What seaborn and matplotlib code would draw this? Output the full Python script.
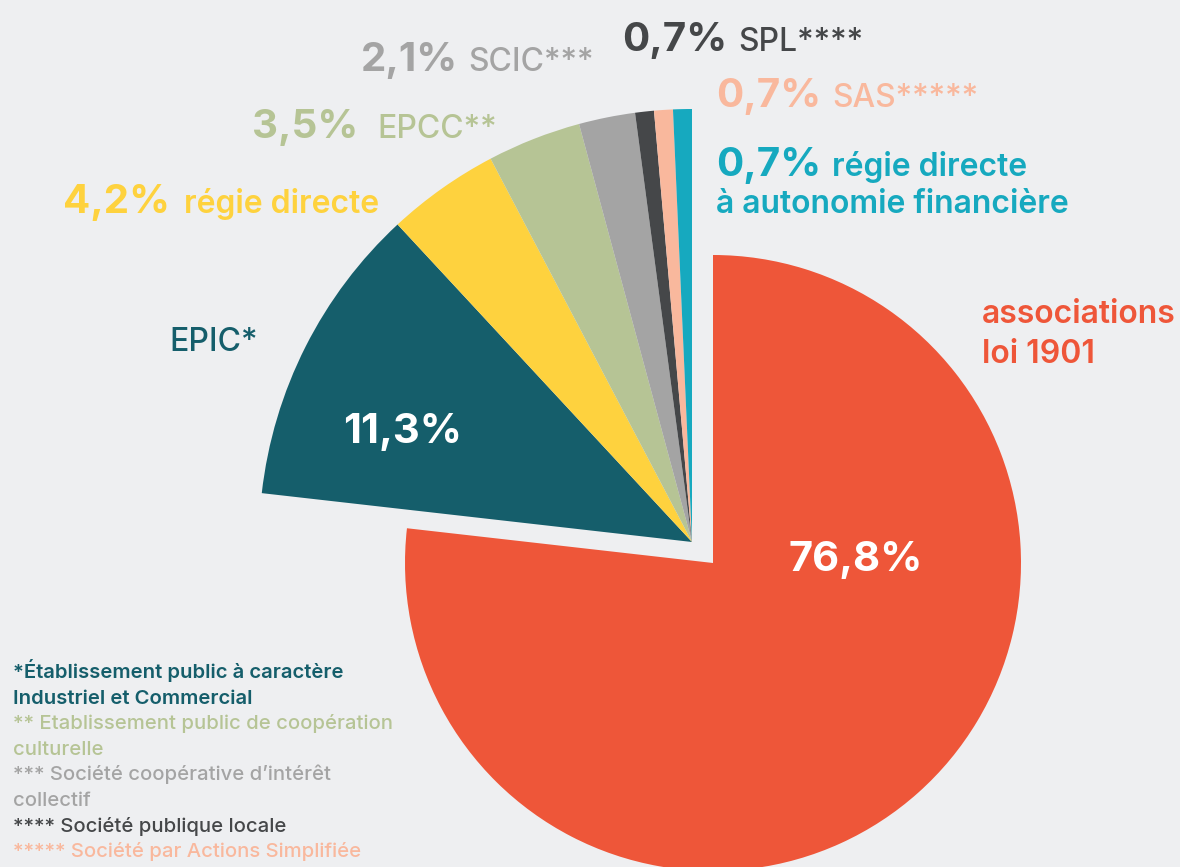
import seaborn as sns
import matplotlib.pyplot as plt

# part des modes de gestion
categories = ['associations loi 1901', 'EPIC*', 'régie directe', 'EPCC**', 'SCIC***',
              'SPL****', 'SAS*****', 'régie directe à autonomie financière']
valeurs = [76.8, 11.3, 4.2, 3.5, 2.1, 0.7, 0.7, 0.7]
couleurs = ['#EE5639', '#155E6B', '#FED23E', '#B6C495', '#A4A4A4',
            '#454749', '#F9B89D', '#16A9BF']

notes = ['*Établissement public à caractère', 'Industriel et Commercial',
         '** Etablissement public de coopération', 'culturelle',
         '*** Société coopérative d\u2019intérêt', 'collectif',
         '**** Société publique locale', '***** Société par Actions Simplifiée']
notes_couleurs = ['#155E6B', '#155E6B', '#B6C495', '#B6C495',
                  '#A4A4A4', '#A4A4A4', '#454749', '#F9B89D']

fond = '#EEEFF1'
sns.set_theme(style='white', rc={'figure.facecolor': fond, 'axes.facecolor': fond})
plt.rcParams['font.family'] = ['Inter', 'DejaVu Sans']

W, H = 1180, 867
fig = plt.figure(figsize=(W / 100, H / 100), dpi=100)
ax = fig.add_axes([0, 0, 1, 1])


def fmt(v):
    return f'{v:.1f}'.replace('.', ',') + '%'


wedges, _ = ax.pie(valeurs, colors=couleurs, startangle=90, counterclock=False,
                   radius=433, center=(692, H - 542), wedgeprops={'linewidth': 0})
# la part des associations est plus petite et décalée
wedges[0].set_radius(308)
wedges[0].set_center((713, H - 563))

ax.set_xlim(0, W)
ax.set_ylim(0, H)
ax.set_aspect('equal')
ax.axis('off')


def txt(x, y, s, size, color, weight='bold'):
    ax.text(x, H - y, s, fontsize=size, color=color, fontweight=weight,
            ha='left', va='baseline')


# étiquettes : pourcentage + libellé
etiquettes = [
    (2, (63, 213), (184, 213)),
    (3, (252, 138), (377, 138)),
    (4, (361, 71), (468, 71)),
    (5, (622, 51), (738, 51)),
    (6, (716, 107), (832, 107)),
    (7, (716, 176), (832, 176)),
]
pct_size, lab_size = 29, 23
for i, p, l in etiquettes:
    c = couleurs[i]
    txt(p[0], p[1], fmt(valeurs[i]), pct_size, c)
    if i == 7:
        txt(l[0], l[1], 'régie directe', lab_size, c, 'semibold')
        txt(716, 213, 'à autonomie financière', lab_size, c, 'semibold')
    else:
        weight = 'semibold' if i == 2 else 'medium'
        txt(l[0], l[1], categories[i], lab_size, c, weight)

txt(169, 351, categories[1], lab_size, couleurs[1], 'medium')
txt(982, 323, 'associations', lab_size, couleurs[0], 'semibold')
txt(982, 363, 'loi 1901', lab_size, couleurs[0], 'semibold')
txt(343, 443, fmt(valeurs[1]), 30, 'white')
txt(788, 571, fmt(valeurs[0]), 30, 'white')

for k, (n, c) in enumerate(zip(notes, notes_couleurs)):
    txt(13, 678 + k * 25.6, n, 14.6, c, 'semibold' if k < 2 else 'medium')

plt.savefig('out.png', dpi=100, facecolor=fond)
